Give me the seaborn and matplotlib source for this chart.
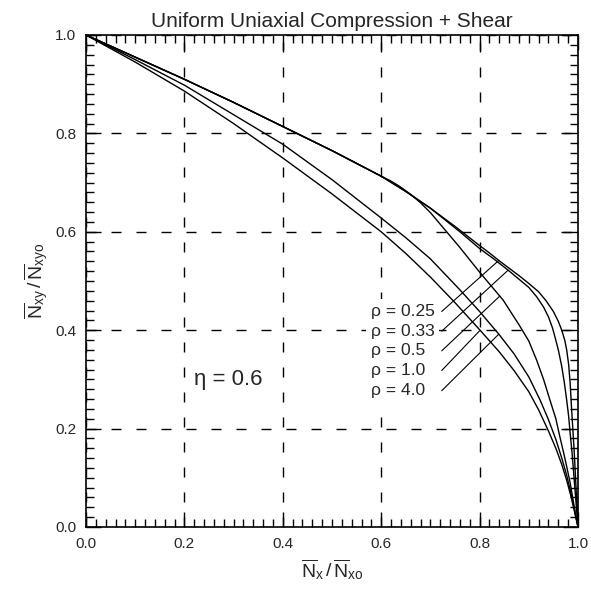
import numpy as np
import pandas as pd
import matplotlib
matplotlib.use("Agg")
import matplotlib.pyplot as plt
import seaborn as sns
from matplotlib.ticker import MultipleLocator

# ---------------- data ----------------
x_A = [0.0, 0.1, 0.2, 0.3, 0.4, 0.5, 0.6, 0.65, 0.7, 0.75, 0.8, 0.82, 0.84, 0.86, 0.88, 0.90, 0.92, 0.935,
       0.95, 0.96, 0.967, 0.973, 0.977, 0.981, 0.984, 0.987, 0.990, 0.993, 0.996, 1.0]
y_A = [1.0, 0.955, 0.910, 0.863, 0.814, 0.765, 0.713, 0.682, 0.648, 0.611, 0.572, 0.557, 0.541, 0.526, 0.511,
       0.495, 0.478, 0.460, 0.438, 0.418, 0.400, 0.380, 0.360, 0.330, 0.293, 0.240, 0.191, 0.140, 0.080, 0.0]

x_B = [0.0, 0.1, 0.2, 0.3, 0.4, 0.5, 0.6, 0.65, 0.7, 0.76, 0.8, 0.83, 0.858, 0.882, 0.90, 0.916, 0.930, 0.940,
       0.948, 0.953, 0.960, 0.967, 0.972, 0.977, 0.981, 0.984, 0.988, 0.992, 0.996, 1.0]
y_B = [1.0, 0.955, 0.910, 0.863, 0.814, 0.765, 0.713, 0.682, 0.648, 0.600, 0.566, 0.544, 0.522, 0.502, 0.487,
       0.468, 0.447, 0.427, 0.405, 0.387, 0.360, 0.326, 0.295, 0.258, 0.225, 0.191, 0.150, 0.100, 0.050, 0.0]

x_C = [0.0, 0.1, 0.2, 0.3, 0.4, 0.5, 0.6, 0.62, 0.638, 0.66, 0.68, 0.7, 0.733, 0.76, 0.8, 0.848, 0.882, 0.90,
       0.916, 0.93, 0.943, 0.955, 0.963, 0.971, 0.977, 0.984, 0.990, 0.995, 1.0]
y_C = [1.0, 0.955, 0.910, 0.863, 0.814, 0.765, 0.713, 0.703, 0.692, 0.676, 0.659, 0.639, 0.600, 0.568, 0.518,
       0.461, 0.408, 0.378, 0.339, 0.300, 0.258, 0.220, 0.184, 0.150, 0.123, 0.090, 0.055, 0.025, 0.0]

x_D = [0.0, 0.1, 0.2, 0.3, 0.4, 0.5, 0.6, 0.65, 0.7, 0.76, 0.8, 0.839, 0.87, 0.9, 0.923, 0.94, 0.955, 0.967,
       0.977, 0.985, 0.992, 1.0]
y_D = [1.0, 0.950, 0.898, 0.838, 0.778, 0.706, 0.628, 0.588, 0.545, 0.482, 0.438, 0.392, 0.352, 0.305, 0.258,
       0.218, 0.178, 0.140, 0.105, 0.072, 0.040, 0.0]

x_E = [0.0, 0.1, 0.2, 0.3, 0.4, 0.5, 0.6, 0.65, 0.7, 0.75, 0.8, 0.84, 0.87, 0.9, 0.92, 0.94, 0.955, 0.967,
       0.977, 0.985, 0.992, 1.0]
y_E = [1.0, 0.945, 0.886, 0.820, 0.750, 0.677, 0.600, 0.556, 0.508, 0.456, 0.401, 0.356, 0.318, 0.275, 0.238,
       0.195, 0.160, 0.127, 0.095, 0.065, 0.035, 0.0]

rho_labels = ["0.25", "0.33", "0.5", "1.0", "4.0"]
rho_curves = ["A", "B", "C", "E", "D"]          # curve each label points at
leader_x = [0.839, 0.858, 0.841, 0.801, 0.839]   # where the leader meets its curve
label_y = [0.438, 0.398, 0.358, 0.318, 0.277]

title = "Uniform Uniaxial Compression + Shear"
eta_text = "\u03b7 = 0.6"
ticks = [0.0, 0.2, 0.4, 0.6, 0.8, 1.0]
tick_labels = ["0.0", "0.2", "0.4", "0.6", "0.8", "1.0"]

curves = {"A": (x_A, y_A), "B": (x_B, y_B), "C": (x_C, y_C),
          "D": (x_D, y_D), "E": (x_E, y_E)}
df = pd.concat([pd.DataFrame({"x": xs, "y": ys, "curve": k})
                for k, (xs, ys) in curves.items()], ignore_index=True)

# ---------------- style ----------------
sns.set_style("ticks")
plt.rcParams["font.family"] = ["Liberation Sans", "DejaVu Sans"]
plt.rcParams["mathtext.fontset"] = "custom"
plt.rcParams["mathtext.rm"] = "Liberation Sans"
plt.rcParams["mathtext.it"] = "Liberation Sans"
plt.rcParams["mathtext.bf"] = "Liberation Sans"

fig = plt.figure(figsize=(5.91, 5.90), dpi=100)
ax = fig.add_axes([86 / 591, 1 - 527 / 590, 492 / 591, 492 / 590])

for k in curves:
    sns.lineplot(data=df[df.curve == k], x="x", y="y", sort=False, estimator=None,
                 color="black", linewidth=1.0, ax=ax, legend=False, zorder=3)

ax.set_xlim(0, 1)
ax.set_ylim(0, 1)
ax.set_xticks(ticks)
ax.set_yticks(ticks)
ax.set_xticklabels(tick_labels)
ax.set_yticklabels(tick_labels)
ax.xaxis.set_minor_locator(MultipleLocator(0.02))
ax.yaxis.set_minor_locator(MultipleLocator(0.02))
ax.tick_params(which="both", direction="in", top=True, right=True, color="black", width=1.0)
ax.tick_params(which="major", length=11, labelsize=11, pad=7)
ax.tick_params(which="minor", length=5.5)
for s in ax.spines.values():
    s.set_linewidth(1.2)
    s.set_color("black")

ax.grid(True, which="major", color="black", linewidth=1.0, linestyle=(0, (7.2, 10.8)))
ax.set_axisbelow(True)

ax.set_title(title, fontsize=15, pad=6)
ax.set_xlabel(r"$\overline{\mathrm{N}}_{\mathrm{x}}\,/\,\overline{\mathrm{N}}_{\mathrm{xo}}$", fontsize=14, labelpad=5)
ax.set_ylabel(r"$\overline{\mathrm{N}}_{\mathrm{xy}}\,/\,\overline{\mathrm{N}}_{\mathrm{xyo}}$", fontsize=14, labelpad=3)

ax.text(0.22, 0.30, eta_text, fontsize=16, ha="left", va="center",
        bbox=dict(facecolor="white", edgecolor="none", pad=2), zorder=4)

for lab, cv, lx, ly in zip(rho_labels, rho_curves, leader_x, label_y):
    cx, cy = curves[cv]
    ty = np.interp(lx, cx, cy)
    ax.text(0.579, ly, "\u03c1 = " + lab, fontsize=12.5, ha="left", va="center",
            bbox=dict(facecolor="white", edgecolor="none", pad=3.5), zorder=4)
    ax.plot([0.723, lx], [ly, ty], color="black", linewidth=0.8, zorder=3)

fig.savefig("out.png", dpi=100)
